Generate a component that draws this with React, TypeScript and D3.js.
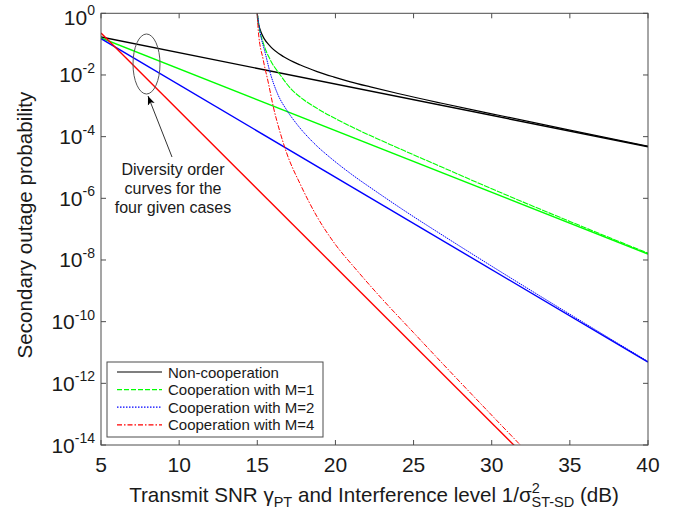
import React from "react";
import * as d3 from "d3";

const W = 689;
const H = 511;
const plot = { left: 101, right: 648, top: 13.3, bottom: 445 };
const FONT = "'Liberation Sans', Arial, Helvetica, sans-serif";

const snrTicks = [5, 10, 15, 20, 25, 30, 35, 40];
const probExponents = [0, -2, -4, -6, -8, -10, -12, -14];

// Diversity-order reference lines: [SNR (dB), outage probability]
const nonCoopSlope: [number, number][] = [[5, 1.7e-1], [40, 4.7e-5]];
const coopM1Slope: [number, number][] = [[5, 1.58e-1], [40, 1.55e-8]];
const coopM2Slope: [number, number][] = [[5, 1.51e-1], [40, 4.9e-12]];
const coopM4Slope: [number, number][] = [[5, 2.29e-1], [32.2, 4.0e-15]];

// Outage probability curves: [SNR (dB), outage probability]
const nonCoop: [number, number][] = [
  [15.0, 1], [15.05, 0.56], [15.19, 0.288], [15.45, 0.148], [15.83, 0.085], [16.69, 0.039],
  [17.76, 0.021], [18.83, 0.0129], [19.87, 0.0087], [20.96, 0.006], [22.24, 0.0041],
  [24.0, 0.0025], [26.73, 0.00123], [30.0, 5.5e-4], [35.0, 1.62e-4], [40, 4.9e-5],
];
const coopM1: [number, number][] = [
  [15.0, 1], [15.1, 0.4], [15.38, 0.11], [15.83, 0.031], [16.47, 0.01], [17.12, 3.7e-3],
  [17.95, 1.6e-3], [18.85, 8.1e-4], [20.13, 3.55e-4], [21.57, 1.55e-4], [24.0, 4.3e-5],
  [26.73, 1.07e-5], [30.0, 2.04e-6], [35.0, 1.78e-7], [40, 1.66e-8],
];
const coopM2: [number, number][] = [
  [15.0, 1], [15.19, 0.229], [15.51, 0.051], [15.83, 0.0115], [16.28, 2.57e-3], [16.92, 6.8e-4],
  [17.56, 2.44e-4], [18.59, 6.4e-5], [19.81, 1.82e-5], [20.96, 6.4e-6], [22.69, 1.55e-6],
  [24.17, 4.8e-7], [27.0, 5.7e-8], [30.0, 6.3e-9], [35.0, 1.74e-10], [40, 5.1e-12],
];
const coopM4: [number, number][] = [
  [15.0, 1], [15.06, 0.29], [15.38, 0.031], [15.71, 5.5e-3], [16.03, 9.1e-4], [16.47, 1.32e-4],
  [16.9, 2.75e-5], [17.76, 2.8e-6], [18.83, 2.5e-7], [19.87, 3.9e-8], [21.39, 4.5e-9],
  [22.95, 5.7e-10], [25.0, 4.4e-11], [27.16, 3.0e-12], [29.5, 1.7e-13], [32.2, 6.4e-15],
];

const legendLabels = [
  "Non-cooperation",
  "Cooperation with M=1",
  "Cooperation with M=2",
  "Cooperation with M=4",
];
const annotationLines = ["Diversity order", "curves for the", "four given cases"];

const BLACK = "#000000";
const GREEN = "#00ff00";
const BLUE = "#0000ff";
const RED = "#ff0000";
const AXIS = "#4d4d4d";
const TEXT = "#1a1a1a";

export default function App() {
  const x = d3.scaleLinear().domain([5, 40]).range([plot.left, plot.right]);
  const y = d3.scaleLog().domain([1, 1e-14]).range([plot.top, plot.bottom]);

  const line = d3
    .line<[number, number]>()
    .x((d) => x(d[0]))
    .y((d) => y(d[1]))
    .curve(d3.curveMonotoneX);
  const straight = d3
    .line<[number, number]>()
    .x((d) => x(d[0]))
    .y((d) => y(d[1]));

  const curves = [
    { data: nonCoop, color: BLACK, dash: undefined, width: 1.2 },
    { data: coopM1, color: GREEN, dash: "6,1", width: 1.1 },
    { data: coopM2, color: BLUE, dash: "1.5,0.8", width: 1.0 },
    { data: coopM4, color: RED, dash: "5,1.5,1.5,1.5", width: 1.0 },
  ];
  const slopes = [
    { data: nonCoopSlope, color: BLACK },
    { data: coopM1Slope, color: GREEN },
    { data: coopM2Slope, color: BLUE },
    { data: coopM4Slope, color: RED },
  ];
  const legendStyles = [
    { color: BLACK, dash: undefined },
    { color: GREEN, dash: "5,2" },
    { color: BLUE, dash: "1.5,1.5" },
    { color: RED, dash: "5,2,1.5,2" },
  ];

  const tickLen = 5;
  const legend = { x: 107, y: 362, w: 216, h: 75, row: 17.6 };

  return (
    <svg
      width={W}
      height={H}
      style={{ position: "absolute", left: 0, top: 0, display: "block", background: "#fff" }}
      fontFamily={FONT}
    >
      <defs>
        <clipPath id="plot-area">
          <rect x={plot.left} y={plot.top} width={plot.right - plot.left} height={plot.bottom - plot.top} />
        </clipPath>
        <marker id="arrowhead" viewBox="0 0 10 10" refX="10" refY="5" markerWidth="9" markerHeight="9" orient="auto">
          <path d="M0,1 L10,5 L0,9 L2.5,5 Z" fill="#000" />
        </marker>
      </defs>
      <rect x={0} y={0} width={W} height={H} fill="#fff" />

      {/* series */}
      <g clipPath="url(#plot-area)">
        {slopes.map((s, i) => (
          <path key={`s${i}`} d={straight(s.data) || ""} fill="none" stroke={s.color} strokeWidth={1.4} />
        ))}
        {curves.map((c, i) => (
          <path
            key={`c${i}`}
            d={line(c.data) || ""}
            fill="none"
            stroke={c.color}
            strokeWidth={c.width}
            strokeDasharray={c.dash}
          />
        ))}
      </g>

      {/* frame and ticks */}
      <rect
        x={plot.left}
        y={plot.top}
        width={plot.right - plot.left}
        height={plot.bottom - plot.top}
        fill="none"
        stroke={AXIS}
        strokeWidth={1}
      />
      {snrTicks.map((t) => (
        <g key={`xt${t}`} stroke={AXIS} strokeWidth={1}>
          <line x1={x(t)} x2={x(t)} y1={plot.bottom} y2={plot.bottom - tickLen} />
          <line x1={x(t)} x2={x(t)} y1={plot.top} y2={plot.top + tickLen} />
        </g>
      ))}
      {probExponents.map((e) => (
        <g key={`yt${e}`} stroke={AXIS} strokeWidth={1}>
          <line x1={plot.left} x2={plot.left + tickLen} y1={y(10 ** e)} y2={y(10 ** e)} />
          <line x1={plot.right} x2={plot.right - tickLen} y1={y(10 ** e)} y2={y(10 ** e)} />
        </g>
      ))}

      {/* tick labels */}
      {snrTicks.map((t) => (
        <text key={`xl${t}`} x={x(t)} y={472} textAnchor="middle" fontSize={21} fill={TEXT}>
          {t}
        </text>
      ))}
      {probExponents.map((e) => (
        <text
          key={`yl${e}`}
          x={95}
          y={Math.max(y(10 ** e) + 7.5, 24.5)}
          textAnchor="end"
          fontSize={21}
          fill={TEXT}
        >
          10
          <tspan dy={-9.5} fontSize={14}>
            {e}
          </tspan>
        </text>
      ))}

      {/* axis titles */}
      <text transform={`translate(32, 225) rotate(-90)`} textAnchor="middle" fontSize={20.6} fill={TEXT}>
        Secondary outage probability
      </text>
      <text x={374} y={502} textAnchor="middle" fontSize={20.6} fill={TEXT}>
        Transmit SNR γ
        <tspan dy={5} fontSize={14.5}>PT</tspan>
        <tspan dy={-5}> and Interference level 1/σ</tspan>
        <tspan dy={-9.5} fontSize={14.5}>2</tspan>
        <tspan dx={-8.2} dy={14.5} fontSize={14.5}>ST-SD</tspan>
        <tspan dy={-5}> (dB)</tspan>
      </text>

      {/* annotation */}
      <ellipse cx={146.5} cy={64} rx={13.5} ry={30} fill="none" stroke="#555" strokeWidth={1} />
      <line x1={172} y1={157} x2={148} y2={96} stroke="#333" strokeWidth={1} markerEnd="url(#arrowhead)" />
      {annotationLines.map((t, i) => (
        <text key={`an${i}`} x={173} y={175 + i * 19} textAnchor="middle" fontSize={16} fill={TEXT}>
          {t}
        </text>
      ))}

      {/* legend */}
      <rect x={legend.x} y={legend.y} width={legend.w} height={legend.h} fill="#fff" stroke={AXIS} strokeWidth={1} />
      {legendLabels.map((label, i) => {
        const cy = legend.y + 10 + i * legend.row;
        const st = legendStyles[i];
        return (
          <g key={`lg${i}`}>
            <line x1={117} x2={162} y1={cy} y2={cy} stroke={st.color} strokeWidth={1.2} strokeDasharray={st.dash} />
            <text x={168} y={cy + 5.5} fontSize={15} fill={TEXT}>
              {label}
            </text>
          </g>
        );
      })}
    </svg>
  );
}
